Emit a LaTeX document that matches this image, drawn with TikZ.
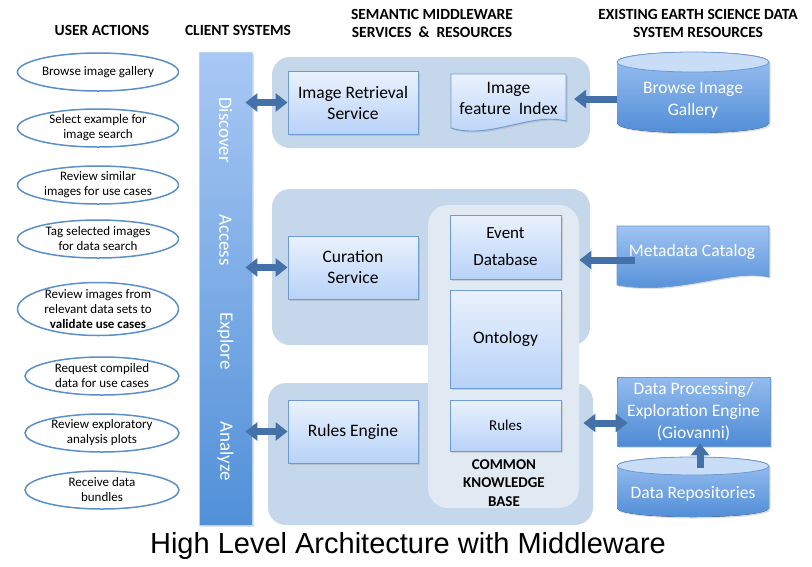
\documentclass[tikz,border=0pt]{standalone}
\usepackage{fontspec}
\setmainfont{Carlito}
\newfontfamily\titlefont{Liberation Sans}
\usetikzlibrary{arrows.meta,positioning,shapes.geometric,shadows}

\definecolor{panelbg}{HTML}{C5D7EB}
\definecolor{kbbg}{HTML}{E1E9F3}
\definecolor{boxtop}{HTML}{EAF2FD}
\definecolor{boxbot}{HTML}{B8D2F8}
\definecolor{boxline}{HTML}{6E9BD3}
\definecolor{bartop}{HTML}{A8C8F4}
\definecolor{barbot}{HTML}{5190D8}
\definecolor{restop}{HTML}{A0C4F2}
\definecolor{resbot}{HTML}{4E8BD6}
\definecolor{resline}{HTML}{6A9AD6}
\definecolor{captop}{HTML}{C9DDF6}
\definecolor{arrowc}{HTML}{4471A7}
\definecolor{ellline}{HTML}{5A8FC8}

\begin{document}
\begin{tikzpicture}[x=1pt,y=-1pt,
  hdr/.style={font=\bfseries\fontsize{15.5}{18}\selectfont,align=center},
  act/.style={ellipse,draw=ellline,line width=1.5pt,fill=white,inner xsep=0pt,inner ysep=-6pt,
    minimum width=161pt,minimum height=38pt,align=center,font=\fontsize{13}{15}\selectfont},
  shade/.style={drop shadow={opacity=0.25,shadow xshift=1.5pt,shadow yshift=-1.5pt}},
  svc/.style={shade,draw=boxline,line width=0.9pt,top color=boxtop,bottom color=boxbot,
    align=center,inner sep=0pt,font=\fontsize{17.5}{21}\selectfont},
  res/.style={text=white,align=center,inner sep=0pt,font=\fontsize{17.5}{22}\selectfont},
  phase/.style={rotate=-90,text=white,font=\fontsize{19}{20}\selectfont},
  dbl/.style={{Triangle[length=12pt,width=18pt]}-{Triangle[length=12pt,width=18pt]},line width=7pt,draw=arrowc},
  one/.style={-{Triangle[length=12pt,width=18pt]},line width=7pt,draw=arrowc}]
\useasboundingbox (0,0) rectangle (812,566);

% headings
\node[hdr] (hact) at (102,30) {USER ACTIONS};
\node[hdr] (hcli) at (238,30) {CLIENT SYSTEMS};
\node[hdr] (hmid) at (432,23) {SEMANTIC MIDDLEWARE\\SERVICES\ \ \&\ \ RESOURCES};
\node[hdr] (hres) at (698,23) {EXISTING EARTH SCIENCE DATA\\SYSTEM RESOURCES};

% user actions
\node[act] (a1) at (98,72) {Browse image gallery};
\node[act] (a2) at (98,128) {Select example for\\image search};
\node[act] (a3) at (98,185) {Review similar\\images for use cases};
\node[act] (a4) at (98,239) {Tag selected images\\for data search};
\node[act,minimum height=53pt] (a5) at (98,309) {Review images from\\relevant data sets to\\\textbf{validate use cases}};
\node[act,minimum width=154pt,inner xsep=-2pt] (a6) at (102,376) {Request compiled\\data for use cases};
\node[act,minimum width=154pt,inner xsep=-2pt] (a7) at (102,433) {Review exploratory\\analysis plots};
\node[act,minimum width=154pt,inner xsep=-2pt] (a8) at (102,490) {Receive data\\bundles};

% client systems
\node[shade,draw=bartop!80!white,line width=0.8pt,top color=bartop,bottom color=barbot,
  minimum width=53pt,minimum height=473pt,inner sep=0pt] (bar) at (225.5,288.5) {};
\node[phase] (discover) at (225.5,130) {Discover};
\node[phase] (access) at (225.5,240) {Access};
\node[phase] (explore) at (225.5,341) {Explore};
\node[phase] (analyze) at (225.5,451) {Analyze};

% middleware panels
\fill[panelbg,rounded corners=18pt] (272,57) rectangle (590,148);
\fill[panelbg,rounded corners=18pt] (272,189) rectangle (590,345);
\fill[panelbg,rounded corners=18pt] (268,383) rectangle (593,525);
\fill[kbbg,rounded corners=20pt] (428,205) rectangle (579,508);

\node[svc,minimum width=130pt,minimum height=63pt] (retr) at (353,102.5) {Image Retrieval\\Service};
\node[svc,minimum width=130pt,minimum height=63pt] (cur) at (353,267.5) {Curation\\Service};
\node[svc,minimum width=130pt,minimum height=63pt] (reng) at (353,431.5) {Rules Engine};

\draw[shade,boxline,line width=0.9pt,top color=boxtop,bottom color=boxbot]
  (451,74) -- (566,74) -- (566,121) .. controls (530,112) and (490,140) .. (451,128) -- cycle;
\node[align=center,font=\fontsize{17.5}{21}\selectfont] (index) at (508.5,98) {Image\\feature\ \ Index};

\node[svc,minimum width=111pt,minimum height=64pt,font=\fontsize{17}{27}\selectfont] (event) at (505.5,247) {Event\\Database};
\node[svc,minimum width=111pt,minimum height=98pt] (onto) at (505.5,339) {Ontology};
\node[svc,minimum width=111pt,minimum height=51pt,font=\fontsize{15}{18}\selectfont] (rules) at (505.5,425.5) {Rules};
\node[align=center,font=\bfseries\fontsize{15}{18.5}\selectfont] (kb) at (504,483) {COMMON\\KNOWLEDGE\\BASE};

% earth science resources
\fill[shade,top color=restop,bottom color=resbot] (617,62) -- (617,123)
  .. controls (617,136.3) and (769,136.3) .. (769,123) -- (769,62)
  .. controls (769,48.7) and (617,48.7) .. (617,62) -- cycle;
\draw[resline,fill=captop,line width=0.8pt] (693,62) ellipse [x radius=76,y radius=10];
\node[res] (gallery) at (693,100) {Browse Image\\Gallery};

\draw[shade,resline,line width=0.8pt,top color=restop,bottom color=resbot]
  (617,226) -- (769,226) -- (769,277) .. controls (730,268) and (680,296) .. (617,285) -- cycle;
\node[res] (meta) at (692,252) {Metadata Catalog};

\node[shade,draw=resline,line width=0.8pt,top color=restop!85!resbot,bottom color=resbot,res,
  minimum width=153pt,minimum height=69pt] (giov) at (693.5,411.5) {Data Processing/\\Exploration Engine\\(Giovanni)};

\fill[shade,top color=restop,bottom color=resbot] (617,466) -- (617,508)
  .. controls (617,520) and (769,520) .. (769,508) -- (769,466)
  .. controls (769,454) and (617,454) .. (617,466) -- cycle;
\draw[resline,fill=captop,line width=0.8pt] (693,466) ellipse [x radius=76,y radius=9];
\node[res] (repo) at (693,494) {Data Repositories};

% connectors
\draw[dbl] ([xshift=-7pt]bar.east |- retr.west) -- (retr.west);
\draw[dbl] ([xshift=-7pt]bar.east |- cur.west) -- (cur.west);
\draw[dbl] ([xshift=-7pt]bar.east |- reng.west) -- (reng.west);
\draw[one] (617,99) -- ([xshift=13pt]index.east |- 0,99);
\draw[one] ([xshift=6pt]meta.west |- 0,260) -- ([xshift=18pt]event.east |- 0,260);
\draw[dbl] ([xshift=22pt]rules.east |- 0,423) -- ([xshift=11pt]giov.west |- 0,423);
\draw[one] (700,468) -- ([yshift=3pt]giov.south -| 700,0);

% caption
\node[font=\titlefont\fontsize{29}{32}\selectfont] (title) at (408,546) {High Level Architecture with Middleware};
\end{tikzpicture}
\end{document}
